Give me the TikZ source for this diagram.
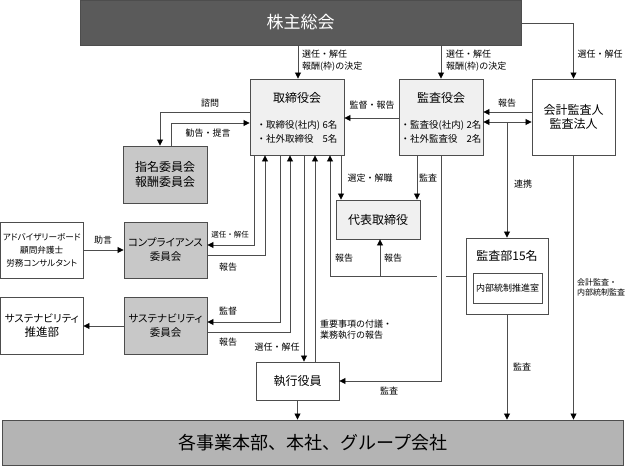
\documentclass[tikz,border=0pt]{standalone}
\usepackage{fontspec}
\setmainfont{Noto Sans CJK JP}
\newfontfamily\pfont{Noto Sans CJK JP}[RawFeature=+palt]
\usetikzlibrary{arrows.meta}
\definecolor{edge}{HTML}{4D4D4D}
\definecolor{darkfill}{HTML}{5A5A5A}
\definecolor{lightfill}{HTML}{F0F0F0}
\definecolor{midfill}{HTML}{C8C8C8}
\definecolor{basefill}{HTML}{B4B4B4}
\begin{document}
\begin{tikzpicture}[x=1pt,y=-1pt,
  box/.style={draw=edge, line width=0.9pt, rectangle, inner sep=0pt, align=center, text=black},
  ttl/.style={font=\fontsize{12}{15}\selectfont, inner sep=0pt, align=center},
  line/.style={draw=edge, line width=0.8pt},
  arr/.style={line, -{Triangle[length=6pt,width=6pt,color=black]}},
  lbl/.style={font=\fontsize{9}{11.5}\selectfont, inner sep=0pt, align=left, text=black},
  smallbox/.style={box, font=\pfont\fontsize{10.5}{14}\selectfont}
]
\fill[white] (0,0) rectangle (625,466);
\useasboundingbox (0,0) rectangle (625,466);

% ---------- boxes ----------
\node[box, fill=darkfill, text=white, minimum width=441pt, minimum height=45pt,
      font=\fontsize{17}{20}\selectfont] (sh) at (300.5,22.5) {株主総会};

\node[box, fill=lightfill, minimum width=94pt, minimum height=76pt] (tori) at (297,117) {};
\node[ttl] (toriT) at (297,98) {取締役会};
\node[inner sep=0pt, align=left, font=\fontsize{9.5}{14}\selectfont] (toriB) at (297,132)
  {\makebox[6.95em][l]{・取締役(社内)}6名\\ \makebox[6.95em][l]{・社外取締役}5名};

\node[box, fill=lightfill, minimum width=84pt, minimum height=76pt] (kansa) at (441,117) {};
\node[ttl] (kansaT) at (441,98) {監査役会};
\node[inner sep=0pt, align=left, font=\fontsize{9.5}{14}\selectfont] (kansaB) at (441,132)
  {\makebox[6.95em][l]{・監査役(社内)}2名\\ \makebox[6.95em][l]{・社外監査役}2名};

\node[box, fill=white, minimum width=83pt, minimum height=76pt,
      font=\fontsize{12}{13.5}\selectfont] (kaikei) at (573.5,117) {会計監査人\\監査法人};

\node[box, fill=midfill, minimum width=84pt, minimum height=57pt,
      font=\fontsize{12}{15}\selectfont] (shimei) at (165,174.5) {指名委員会\\報酬委員会};

\node[box, fill=lightfill, minimum width=84pt, minimum height=39pt,
      font=\fontsize{12}{15}\selectfont] (daihyo) at (378,219.5) {代表取締役};

\node[smallbox, fill=midfill, minimum width=83pt, minimum height=56pt] (comp) at (165.5,250)
  {コンプライアンス\\委員会};
\node[box, fill=white, minimum width=82.5pt, minimum height=56pt,
      font=\pfont\fontsize{8.6}{13}\selectfont] (adv) at (41.75,250)
  {アドバイザリーボード\\顧問弁護士\\労務コンサルタント};

\node[smallbox, fill=midfill, minimum width=83pt, minimum height=57pt] (sust) at (165.5,325.5)
  {サステナビリティ\\委員会};
\node[box, fill=white, minimum width=82.5pt, minimum height=57pt,
      font=\pfont\fontsize{10.5}{14}\selectfont] (suishin) at (41.75,325.5)
  {サステナビリティ\\{\fontsize{11.5}{14}\selectfont 推進部}};

\node[box, fill=white, minimum width=82pt, minimum height=76pt] (kansabu) at (507,276) {};
\node[ttl] (kansabuT) at (507,256) {監査部15名};
\node[box, fill=white, minimum width=69pt, minimum height=30pt,
      font=\fontsize{9}{11}\selectfont] (naibu) at (507.5,288) {内部統制推進室};

\node[box, fill=white, minimum width=83pt, minimum height=38pt,
      font=\fontsize{12}{15}\selectfont] (shikko) at (297.5,381) {執行役員};

\node[box, fill=basefill, minimum width=621pt, minimum height=45pt,
      font=\fontsize{18}{21}\selectfont] (base) at (313,442.5) {各事業本部、本社、グループ会社};

% ---------- connectors ----------
% shareholders
\draw[arr] (298,0 |- sh.south) -- (298,0 |- tori.north);
\node[lbl, anchor=west] (la1) at (302,54) {選任・解任};
\node[lbl, anchor=west] (la2) at (302,67) {報酬(枠)の決定};
\draw[arr] (441,0 |- sh.south) -- (441,0 |- kansa.north);
\node[lbl, anchor=west] (lb1) at (446,54) {選任・解任};
\node[lbl, anchor=west] (lb2) at (446,67) {報酬(枠)の決定};
\draw[arr] (sh.east |- 0,23) -| (kaikei.north);
\node[lbl] (lc) at (600,54) {選任・解任};

% nomination committee
\draw[arr] (tori.west |- 0,112) -| (160,0 |- shimei.north);
\node[lbl] (ld) at (210,103) {諮問};
\draw[arr] (171,0 |- shimei.north) |- (tori.west |- 0,123);
\node[lbl] (le) at (208,133) {勧告・提言};

% audit board / auditor
\draw[arr] (kansa.west |- 0,118) -- (tori.east |- 0,118);
\node[lbl] (lf) at (372,105) {監督・報告};
\draw[arr] (kaikei.west |- 0,112) -- (kansa.east |- 0,112);
\node[lbl] (lg) at (507,103) {報告};
\draw[line, {Triangle[length=6pt,width=6pt,color=black]}-{Triangle[length=6pt,width=6pt,color=black]}]
  (kansa.east |- 0,122) -- (kaikei.west |- 0,122);
\draw[arr] (507,122) -- (kansabu.north);
\node[lbl, anchor=west] (lh) at (514,184) {連携};

% representative director
\draw[arr] (341,0 |- tori.south) -- (341,0 |- daihyo.north);
\node[lbl] (li) at (370,178) {選定・解職};
\draw[arr] (417,0 |- kansa.south) -- (417,0 |- daihyo.north);
\node[lbl] (lj) at (428,178) {監査};
\draw[arr] (441,0 |- kansa.south) |- (shikko.east);
\node[lbl] (lk) at (389,391) {監査};

% internal audit reports
\draw[line] (kansabu.west |- 0,276) -- (445.5,276);
\draw[arr] (436.5,276) -| (330,0 |- tori.south);
\draw[arr] (380,276) -- (380,0 |- daihyo.south);
\node[lbl] (ll) at (344,258) {報告};
\node[lbl] (lm) at (393,258) {報告};

% compliance committee
\draw[arr] (254,0 |- tori.south) |- (comp.east |- 0,245);
\draw[arr] (comp.east |- 0,255) -| (265,0 |- tori.south);
\node[lbl, font=\fontsize{7.5}{9}\selectfont] (ln) at (230,235) {選任・解任};
\node[lbl] (lo) at (228,267) {報告};

% sustainability committee
\draw[arr] (280,0 |- tori.south) |- (sust.east |- 0,322);
\draw[arr] (sust.east |- 0,332) -| (290,0 |- tori.south);
\node[lbl] (lp) at (228,311) {監督};
\node[lbl] (lq) at (228,342) {報告};

% executive officers
\draw[arr] (304,0 |- tori.south) -- (304,0 |- shikko.north);
\node[lbl] (lr) at (277,347) {選任・解任};
\draw[arr] (315,0 |- shikko.north) -- (315,0 |- tori.south);
\node[lbl, anchor=west] (ls) at (320,329.5) {重要事項の付議・\\業務執行の報告};

% advisors / promotion dept
\draw[arr] (adv.east) -- (comp.west);
\node[lbl] (lt) at (103,240) {助言};
\draw[arr] (sust.west |- 0,326) -- (suishin.east |- 0,326);

% down to business units
\draw[arr] (shikko.south) -- (shikko.south |- base.north);
\draw[arr] (kansabu.south) -- (kansabu.south |- base.north);
\node[lbl] (lu) at (522,367) {監査};
\draw[arr] (kaikei.south) -- (kaikei.south |- base.north);
\node[lbl, anchor=west, font=\fontsize{8}{10}\selectfont] (lv) at (577,287) {会計監査・\\内部統制監査};
\end{tikzpicture}
\end{document}
